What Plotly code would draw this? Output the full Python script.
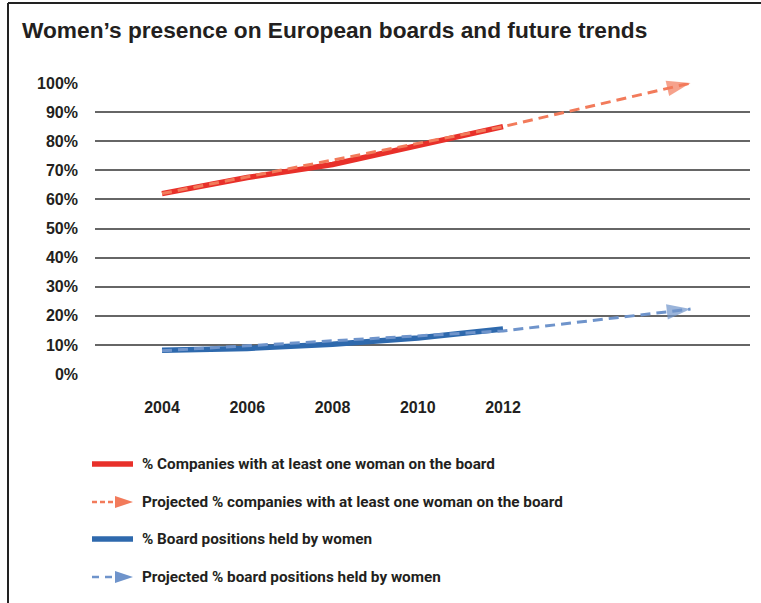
"""Women's presence on European boards — Plotly recreation."""

from __future__ import annotations

import plotly.graph_objects as go

# ---- data ----
years = [2004, 2006, 2008, 2010, 2012]
companies_pct = [62, 67.5, 72, 78.5, 85]
board_pct = [8.2, 8.8, 10.2, 12.4, 15.5]

proj_years = [2004, 2012, 2016.4]
companies_proj = [62, 85, 100]
board_proj = [8, 14.8, 22.3]

tick_years = [2004, 2006, 2008, 2010, 2012]
y_ticks = [0, 10, 20, 30, 40, 50, 60, 70, 80, 90, 100]
y_labels = [f"{v}%" for v in y_ticks]

legend_labels = [
    "% Companies with at least one woman on the board",
    "Projected % companies with at least one woman on the board",
    "% Board positions held by women",
    "Projected % board positions held by women",
]

RED = "#e8302a"
RED_PROJ = "#f27b5b"
BLUE = "#2e69ad"
BLUE_PROJ = "#6f94cb"
TEXT = "#231f20"
GRID = "#666666"
FONT = "Liberation Sans, Arial, sans-serif"
NARROW = "Roboto, Arial, sans-serif"

W, H = 761, 603
L, R, T, B = 95, 11, 83, 229


def px(x):
    return (x - L) / (W - L - R)


def py(y):
    return (H - B - y) / (H - T - B)


fig = go.Figure()

fig.add_trace(go.Scatter(x=years, y=companies_pct, mode="lines",
                         line={"color": RED, "width": 5.5}, showlegend=False))
fig.add_trace(go.Scatter(x=years, y=board_pct, mode="lines",
                         line={"color": BLUE, "width": 5.5}, showlegend=False))

for ys, col in [(companies_proj, RED_PROJ), (board_proj, BLUE_PROJ)]:
    fig.add_trace(go.Scatter(
        x=proj_years, y=ys, mode="lines+markers",
        line={"color": col, "width": 3, "dash": "10px,6px"},
        marker={"symbol": "arrow", "size": [0, 0, 25], "color": col,
                "angleref": "previous", "line": {"width": 0}},
        cliponaxis=False, showlegend=False,
    ))

# ---- hand-drawn legend ----
shapes = []
annotations = []
rows_y = [464, 502, 539, 577]
for i, (label, yy) in enumerate(zip(legend_labels, rows_y)):
    if i in (0, 2):
        col = RED if i == 0 else BLUE
        shapes.append(dict(type="line", xref="paper", yref="paper",
                           x0=px(92), x1=px(133), y0=py(yy), y1=py(yy),
                           line={"color": col, "width": 5.5}))
    else:
        col = RED_PROJ if i == 1 else BLUE_PROJ
        dash = "5px,3px" if i == 1 else "7px,6px"
        shapes.append(dict(type="line", xref="paper", yref="paper",
                           x0=px(92), x1=px(116), y0=py(yy), y1=py(yy),
                           line={"color": col, "width": 2.5, "dash": dash}))
        path = (f"M {px(115)},{py(yy - 6)} L {px(133)},{py(yy)} "
                f"L {px(115)},{py(yy + 6)} Z")
        shapes.append(dict(type="path", xref="paper", yref="paper", path=path,
                           fillcolor=col, line={"width": 0}))
    annotations.append(dict(
        text=label, xref="paper", yref="paper", x=px(140), y=py(yy),
        xanchor="left", yanchor="middle", showarrow=False,
        font={"family": NARROW, "size": 15.3, "color": TEXT, "weight": "bold"},
    ))

# frame lines (left and top)
shapes.append(dict(type="line", xref="paper", yref="paper",
                   x0=px(8), x1=px(8), y0=py(3), y1=py(603),
                   line={"color": "#222222", "width": 2}))
shapes.append(dict(type="line", xref="paper", yref="paper",
                   x0=px(8), x1=px(761), y0=py(3), y1=py(3),
                   line={"color": "#222222", "width": 2}))

fig.update_layout(
    width=W,
    height=H,
    margin={"l": L, "r": R, "t": T, "b": B},
    paper_bgcolor="white",
    plot_bgcolor="white",
    title={"text": "Women’s presence on European boards and future trends",
           "xref": "container", "yref": "container",
           "x": 22 / W, "xanchor": "left", "y": 1 - 30 / H, "yanchor": "middle",
           "font": {"family": FONT, "size": 22.7, "color": TEXT, "weight": "bold"}},
    shapes=shapes,
    annotations=annotations,
    showlegend=False,
    font={"family": FONT, "color": TEXT},
)
fig.update_xaxes(
    range=[2004 - 67 / 42.625, 2004 + 588 / 42.625],
    tickvals=tick_years, ticktext=[str(y) for y in tick_years],
    showgrid=False, zeroline=False, showline=False,
    ticks="", ticklabelstandoff=22,
    tickfont={"family": FONT, "size": 16, "color": TEXT, "weight": "bold"},
)
fig.update_yaxes(
    range=[0, 100], tickvals=y_ticks, ticktext=y_labels,
    showgrid=True, gridcolor=GRID, gridwidth=1.5,
    zeroline=False, showline=False, ticks="", ticklabelstandoff=16,
    tickfont={"family": FONT, "size": 16, "color": TEXT, "weight": "bold"},
)

fig.write_html("out.html", config={"displayModeBar": False},
               post_script="document.body.style.margin='0';")
